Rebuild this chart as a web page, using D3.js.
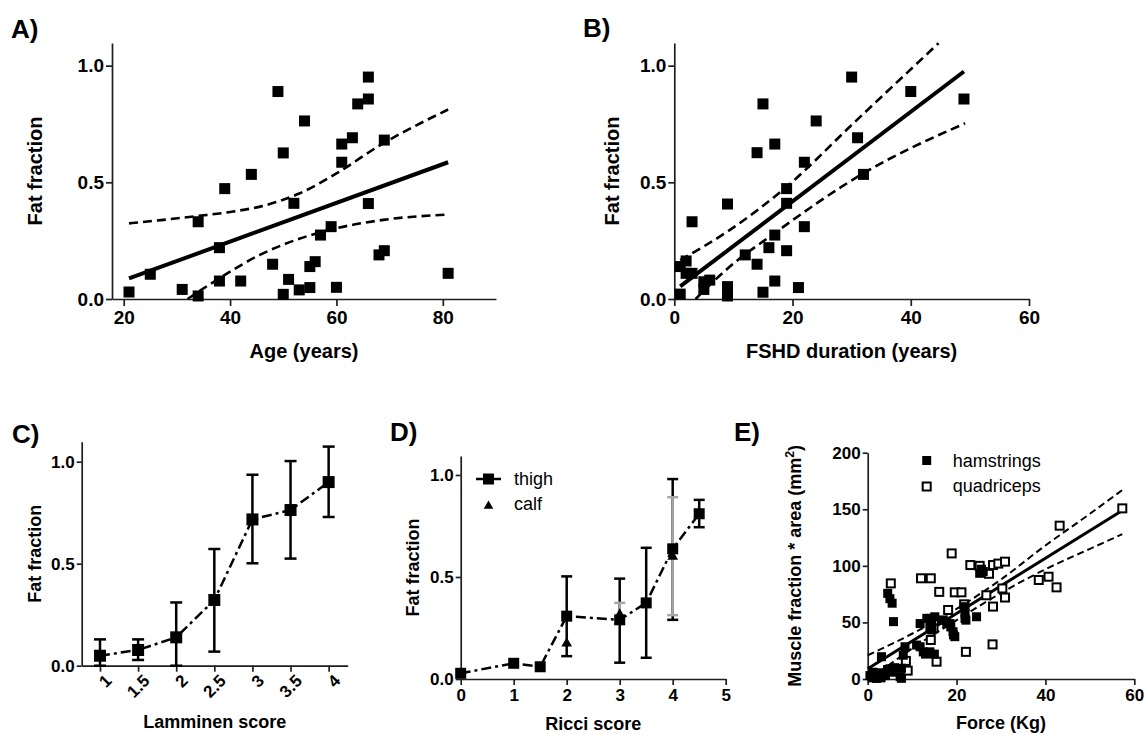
<!DOCTYPE html>
<html><head><meta charset="utf-8">
<script src="https://cdn.jsdelivr.net/npm/d3@7"></script>
<style>
body{margin:0;background:#fff;}
svg{display:block;font-family:"Liberation Sans",Arial,Helvetica,sans-serif;}
</style></head><body>
<svg id="chart" width="1144" height="734"></svg>
<script>
// ---------- Panel A: fat fraction vs age ----------
const ageX   = [21,25,31,34,34,38,38,39,42,44,48,49,50,50,51,52,53,54,55,55,56,57,59,60,61,61,63,64,66,66,66,68,69,69,81];
const ageFat = [0.03,0.106,0.041,0.331,0.013,0.22,0.077,0.473,0.077,0.534,0.149,0.889,0.626,0.02,0.084,0.41,0.039,0.763,0.139,0.049,0.16,0.274,0.31,0.05,0.586,0.664,0.691,0.836,0.951,0.857,0.409,0.189,0.681,0.207,0.11];
const ageFitX = [21,81], ageFitY = [0.088,0.586];
const ageUpX = [21,27,34,40,46,53,60,68,81], ageUpY = [0.324,0.338,0.356,0.373,0.398,0.452,0.538,0.656,0.812];
const ageLoX = [32,38,45.6,53,59.4,68.8,81], ageLoY = [0,0.089,0.189,0.258,0.3,0.339,0.362];

// ---------- Panel B: fat fraction vs FSHD duration ----------
const durX   = [1,1,2,2,3,3,5,5,6,9,9,9,12,14,14,15,15,16,17,17,17,19,19,19,21,22,22,24,30,31,32,40,49];
const durFat = [0.021,0.139,0.163,0.11,0.331,0.11,0.074,0.041,0.081,0.407,0.053,0.013,0.189,0.627,0.149,0.836,0.029,0.22,0.664,0.274,0.077,0.473,0.41,0.207,0.049,0.586,0.31,0.763,0.951,0.691,0.534,0.889,0.857];
const durFitX = [1,49], durFitY = [0.054,0.975];
const durUpX = [1,9.4,19,30.3,44.7], durUpY = [0.167,0.296,0.481,0.753,1.096];
const durLoX = [3.6,9.4,16.9,32,49.2], durLoY = [0,0.139,0.281,0.539,0.753];

// ---------- Panel C: Lamminen score ----------
const lamX    = [1,1.5,2,2.5,3,3.5,4];
const lamTicks = ["1","1.5","2","2.5","3","3.5","4"];
const lamMean = [0.049,0.077,0.139,0.322,0.717,0.763,0.9];
const lamLo   = [0,0.028,0,0.069,0.502,0.525,0.729];
const lamHi   = [0.129,0.129,0.31,0.572,0.936,1.003,1.074];

// ---------- Panel D: Ricci score ----------
const ricciX    = [0,1,1.5,2,3,3.5,4,4.5];
const thighMean = [0.028,0.077,0.06,0.308,0.29,0.373,0.638,0.81];
const thighLo   = [null,null,null,0.112,0.08,0.104,0.29,0.744];
const thighHi   = [null,null,null,0.503,0.492,0.643,0.98,0.878];
const calfX     = [2,3,4];
const calfMean  = [0.174,0.316,0.6];
const calfLo    = [null,0.272,0.313];
const calfHi    = [null,0.373,0.891];

// ---------- Panel E: muscle area vs force ----------
const hamForce = [4.5,5,5.5,5.8,3.1,0.5,1,1.5,2,2.5,3,3.5,4,4.5,5,5.5,6,1.2,2.2,7.6,7.3,7.6,8,8.4,11.8,11.8,12.5,13.3,14,14.4,15.1,14,14.4,14,16.6,17,17.8,18.5,18.7,19.2,19.3,19.6,21.9,21.9,22.1,21.9,24.5,25.2,25.6,26,11,13,15];
const hamArea  = [75.7,71,67,50.7,19.7,3,1,4,0.5,2,1,5,3,7,9,6,10,6,3,0.6,2,9.5,21,28.5,49,28.5,24,53.6,53.6,50.7,55,46,43.3,24,52,52,49,49,46,41.8,39,37.4,58,63.9,52,53.6,55,93.4,97,95,30,22,22];
const quadForce = [5.2,12,14.2,16.1,18.9,18.1,19.6,21.1,21.7,23.1,22.1,25.2,27.3,28.2,29.4,30.9,26.7,28.2,28.1,30.3,30.9,38.5,40.7,42.5,43.2,57.3,15.5,14.2,14.8,9,8.6,2.8,4.6];
const quadArea  = [84.5,89,89,77,111,61,76.6,76.6,66,100.7,24,100,93,100.7,102,103.7,74,64,30.6,80,72,87.5,90.4,81,135.5,150.8,15.3,34.5,44.8,7.4,16,5,8];
const forceFitX = [0,57.3], forceFitY = [9,149];
const forceUpX = [0,10,20,30,40,50,57.3], forceUpY = [21,40,62,88,118,146,167];
const forceLoX = [0.6,10,20,30,40,50,57.3], forceLoY = [0,27,52,76,97,115,128];

// ---------- drawing ----------
const svg = d3.select("#chart");
const INK = "#000";
const AXIS = "#1e1e1e";

function axes(o){
  const x = d3.scaleLinear().domain(o.xd).range(o.xr);
  const y = d3.scaleLinear().domain(o.yd).range(o.yr);
  const g = svg.append("g");
  const ax = g.append("g").attr("transform",`translate(0,${o.yr[0]})`)
    .call(d3.axisBottom(x).tickValues(o.xt).tickFormat(o.xf||d3.format("d")).tickSize(o.tsx).tickSizeOuter(0).tickPadding(o.xpad));
  const ay = g.append("g").attr("transform",`translate(${o.xr[0]},0)`)
    .call(d3.axisLeft(y).tickValues(o.yt).tickFormat(o.yf).tickSize(o.tsy).tickSizeOuter(0).tickPadding(o.ypad));
  [ax,ay].forEach(a=>{
    a.select(".domain").attr("stroke",AXIS).attr("stroke-width",1.7);
    a.selectAll(".tick line").attr("stroke",AXIS).attr("stroke-width",1.7);
    a.selectAll("text").attr("fill","#000").attr("font-weight","bold").attr("font-size",o.tfs).attr("font-family","Liberation Sans, Arial, sans-serif");
  });
  // titles
  g.append("text").attr("x",(o.xr[0]+o.xr[1])/2).attr("y",o.xtY).attr("text-anchor","middle")
    .attr("font-weight","bold").attr("font-size",o.afs).text(o.xTitle);
  const yt = g.append("text").attr("transform",`translate(${o.ytX},${(o.yr[0]+o.yr[1])/2}) rotate(-90)`)
    .attr("text-anchor","middle").attr("font-weight","bold").attr("font-size",o.afs);
  if (o.yTitleParts) {
    o.yTitleParts.forEach(p=>{ const t=yt.append("tspan").text(p.t); if(p.sup){t.attr("font-size",o.afs*0.68).attr("dy",-o.afs*0.4);} if(p.after){t.attr("dy",o.afs*0.4);} });
  } else yt.text(o.yTitle);
  g.append("text").attr("x",o.lab[0]).attr("y",o.lab[1]).attr("font-weight","bold").attr("font-size",26).text(o.label);
  return {x,y,g,ax};
}
function squares(g, x, y, xs, ys, s, open){
  g.append("g").selectAll("rect").data(xs.map((v,i)=>[v,ys[i]])).join("rect")
    .attr("x",d=>x(d[0])-s/2).attr("y",d=>y(d[1])-s/2).attr("width",s).attr("height",s)
    .attr("fill",open?"#fff":INK).attr("stroke",INK).attr("stroke-width",open?2:0);
}
function line(g, x, y, xs, ys, w, dash, curve){
  g.append("path").datum(xs.map((v,i)=>[v,ys[i]]))
    .attr("d",d3.line().x(d=>x(d[0])).y(d=>y(d[1])).curve(curve||d3.curveLinear))
    .attr("fill","none").attr("stroke",INK).attr("stroke-width",w).attr("stroke-dasharray",dash||null);
}
function errbars(g, x, y, xs, lo, hi, color, cap, w){
  xs.forEach((v,i)=>{
    if(lo[i]==null) return;
    const cx=x(v);
    g.append("line").attr("x1",cx).attr("x2",cx).attr("y1",y(lo[i])).attr("y2",y(hi[i])).attr("stroke",color).attr("stroke-width",w);
    [lo[i],hi[i]].forEach(e=>g.append("line").attr("x1",cx-cap/2).attr("x2",cx+cap/2).attr("y1",y(e)).attr("y2",y(e)).attr("stroke",color).attr("stroke-width",w));
  });
}
const f1 = d3.format(".1f");

// Panel A
{
  const {x,y,g} = axes({xd:[17.8,90],xr:[112,496],yd:[0,1.097],yr:[299,43],xt:[20,40,60,80],yt:[0,0.5,1],yf:f1,
    tsx:7,tsy:6,xpad:5,ypad:2,tfs:19,afs:20,xTitle:"Age (years)",xtY:358,yTitle:"Fat fraction",ytX:42,label:"A)",lab:[11,38]});
  line(g,x,y,ageUpX,ageUpY,2.6,"9,5",d3.curveMonotoneX);
  line(g,x,y,ageLoX,ageLoY,2.6,"9,5",d3.curveMonotoneX);
  line(g,x,y,ageFitX,ageFitY,4);
  squares(g,x,y,ageX,ageFat,11);
}
// Panel B
{
  const {x,y,g} = axes({xd:[0,60],xr:[674.3,1029],yd:[0,1.097],yr:[299,43],xt:[0,20,40,60],yt:[0,0.5,1],yf:f1,
    tsx:7,tsy:6,xpad:5,ypad:2,tfs:19,afs:20,xTitle:"FSHD duration (years)",xtY:358,yTitle:"Fat fraction",ytX:619,label:"B)",lab:[583,37]});
  line(g,x,y,durUpX,durUpY,2.6,"9,5",d3.curveMonotoneX);
  line(g,x,y,durLoX,durLoY,2.6,"9,5",d3.curveMonotoneX);
  line(g,x,y,durFitX,durFitY,4);
  squares(g,x,y,durX,durFat,11);
}
// Panel C
{
  const {x,y,g,ax} = axes({xd:[0.76,4.25],xr:[81.7,347.7],yd:[0,1.098],yr:[665.7,441.7],xt:lamX,xf:(d,i)=>lamTicks[i],yt:[0,0.5,1],yf:f1,
    tsx:6,tsy:5,xpad:4,ypad:2,tfs:17,afs:18,xTitle:"Lamminen score",xtY:728,yTitle:"Fat fraction",ytX:41,label:"C)",lab:[12,443]});
  ax.selectAll(".tick text").attr("text-anchor","end").attr("dy","0.35em")
    .attr("transform","translate(8,12) rotate(-45)").attr("y",0).attr("x",0);
  errbars(g,x,y,lamX,lamLo,lamHi,INK,12,2.5);
  line(g,x,y,lamX,lamMean,2.5,"10,4,3,4");
  squares(g,x,y,lamX,lamMean,12);
}
// Panel D
{
  const {x,y,g} = axes({xd:[0,5],xr:[460.7,725.7],yd:[0,1.093],yr:[679,456],xt:[0,1,2,3,4,5],yt:[0,0.5,1],yf:f1,
    tsx:6,tsy:5,xpad:4,ypad:2,tfs:17,afs:18,xTitle:"Ricci score",xtY:730,yTitle:"Fat fraction",ytX:419,label:"D)",lab:[390,441]});
  errbars(g,x,y,ricciX,thighLo,thighHi,INK,11,2.5);
  errbars(g,x,y,calfX,calfLo,calfHi,"#a6a6a6",11,2.5);
  line(g,x,y,ricciX,thighMean,2.5,"10,4,3,4");
  squares(g,x,y,ricciX,thighMean,11);
  g.append("g").selectAll("path").data(calfX.map((v,i)=>[v,calfMean[i]])).join("path")
    .attr("transform",d=>`translate(${x(d[0])},${y(d[1])})`).attr("d",d3.symbol(d3.symbolTriangle,50)).attr("fill",INK);
  // legend
  g.append("line").attr("x1",476).attr("x2",501).attr("y1",479).attr("y2",479).attr("stroke",INK).attr("stroke-width",2.5);
  g.append("rect").attr("x",488.5-5.5).attr("y",479-5.5).attr("width",11).attr("height",11).attr("fill",INK);
  g.append("path").attr("transform","translate(488.5,506)").attr("d",d3.symbol(d3.symbolTriangle,40)).attr("fill",INK);
  g.append("text").attr("x",514).attr("y",485).attr("font-size",18).text("thigh");
  g.append("text").attr("x",514).attr("y",510).attr("font-size",18).text("calf");
}
// Panel E
{
  const {x,y,g} = axes({xd:[0,60],xr:[867.7,1134.3],yd:[0,200],yr:[679,452.7],xt:[0,20,40,60],yt:[0,50,100,150,200],yf:d3.format("d"),
    tsx:6,tsy:5,xpad:4,ypad:2,tfs:17,afs:18,xTitle:"Force (Kg)",xtY:729,ytX:801,label:"E)",lab:[734,441],
    yTitleParts:[{t:"Muscle fraction * area (mm"},{t:"2",sup:true},{t:")",after:true}]});
  line(g,x,y,forceUpX,forceUpY,2,"7,4",d3.curveMonotoneX);
  line(g,x,y,forceLoX,forceLoY,2,"7,4",d3.curveMonotoneX);
  line(g,x,y,forceFitX,forceFitY,3);
  squares(g,x,y,quadForce,quadArea,8,true);
  squares(g,x,y,hamForce,hamArea,9,false);
  // legend
  g.append("rect").attr("x",926.7-4.5).attr("y",460.5-4.5).attr("width",9).attr("height",9).attr("fill",INK);
  g.append("rect").attr("x",926.7-4).attr("y",486.5-4).attr("width",8).attr("height",8).attr("fill","#fff").attr("stroke",INK).attr("stroke-width",2);
  g.append("text").attr("x",952.7).attr("y",467).attr("font-size",18).text("hamstrings");
  g.append("text").attr("x",952.7).attr("y",492).attr("font-size",18).text("quadriceps");
}
</script>
</body></html>
